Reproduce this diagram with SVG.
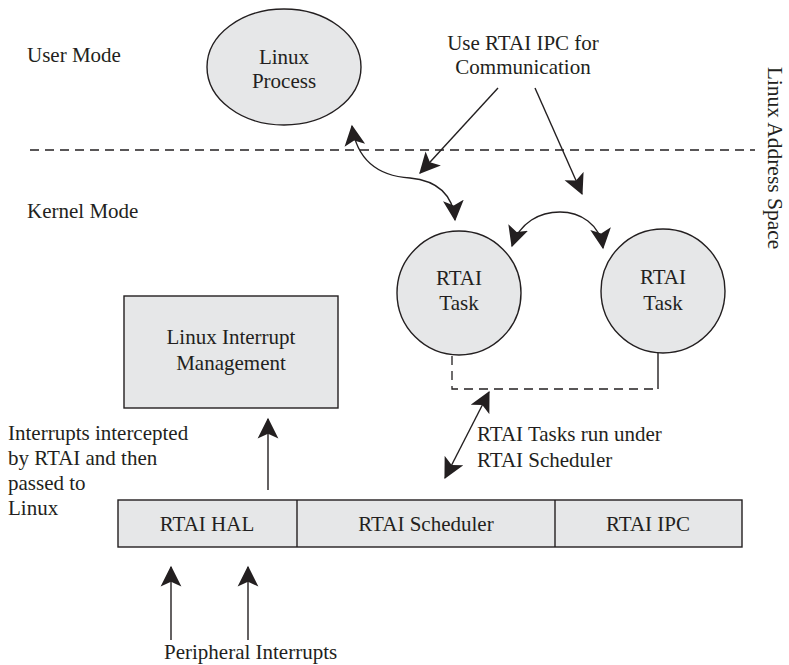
<svg xmlns="http://www.w3.org/2000/svg" width="789" height="665" viewBox="0 0 789 665">
<style>
text{font-family:"Liberation Serif","DejaVu Serif",serif;font-size:21px;fill:#231f20}
.c{text-anchor:middle}
.n{fill:#e6e7e8;stroke:#231f20;stroke-width:1.4}
.l{fill:none;stroke:#231f20;stroke-width:1.4}
.d{fill:none;stroke:#231f20;stroke-width:1.3;stroke-dasharray:9 6}
</style>
<defs>
<marker id="ah" markerUnits="userSpaceOnUse" markerWidth="22" markerHeight="22" viewBox="0 0 18 18" refX="16" refY="9" orient="auto-start-reverse">
<path d="M0,0.5 L17,9 L0,17.5 L4,9 z" fill="#231f20"/>
</marker>
</defs>
<rect width="789" height="665" fill="#fff"/>
<text x="27" y="62">User Mode</text>
<text x="27" y="218">Kernel Mode</text>
<line x1="30" y1="150" x2="755" y2="150" class="d"/>
<text transform="translate(768,158) rotate(90)" class="c" style="font-size:21.5px">Linux Address Space</text>
<text x="523" y="50" class="c">Use RTAI IPC for</text>
<text x="523" y="74" class="c">Communication</text>
<g id="linux-process">
<ellipse cx="284" cy="67" rx="77" ry="58" class="n"/>
<text x="284" y="64" class="c">Linux</text>
<text x="284" y="88" class="c">Process</text>
</g>
<g id="rtai-task-1">
<circle cx="459" cy="293" r="62" class="n"/>
<text x="459" y="285" class="c">RTAI</text>
<text x="459" y="310" class="c">Task</text>
</g>
<g id="rtai-task-2">
<circle cx="663" cy="291" r="62" class="n"/>
<text x="663" y="284" class="c">RTAI</text>
<text x="663" y="310" class="c">Task</text>
</g>
<g id="linux-interrupt-management">
<rect x="124" y="296" width="214" height="112" class="n"/>
<text x="231" y="344" class="c">Linux Interrupt</text>
<text x="231" y="370" class="c">Management</text>
</g>
<g id="rtai-bar">
<rect x="118" y="500" width="624" height="47" class="n"/>
<line x1="297" y1="500" x2="297" y2="547" class="l"/>
<line x1="555" y1="500" x2="555" y2="547" class="l"/>
<text x="207" y="531" class="c">RTAI HAL</text>
<text x="426" y="531" class="c">RTAI Scheduler</text>
<text x="648" y="531" class="c">RTAI IPC</text>
</g>
<text x="8" y="440">Interrupts intercepted</text>
<text x="8" y="465">by RTAI and then</text>
<text x="8" y="490">passed to</text>
<text x="8" y="515">Linux</text>
<text x="477" y="441">RTAI Tasks run under</text>
<text x="477" y="467">RTAI Scheduler</text>
<text x="164" y="659">Peripheral Interrupts</text>
<g id="connectors">
<path d="M352,126 C357,160 378,176 410,178 C440,181 453,196 455,220" class="l" marker-start="url(#ah)" marker-end="url(#ah)"/>
<line x1="498" y1="88" x2="420" y2="173" class="l" marker-end="url(#ah)"/>
<line x1="535" y1="88" x2="582" y2="194" class="l" marker-end="url(#ah)"/>
<path d="M512,246 C520,222 540,212 560,212 C580,212 600,224 603,248" class="l" marker-start="url(#ah)" marker-end="url(#ah)"/>
<path d="M452,356 V389 H658" class="d"/>
<line x1="658" y1="353" x2="658" y2="389" class="l"/>
<line x1="489" y1="392" x2="445" y2="478" class="l" marker-start="url(#ah)" marker-end="url(#ah)"/>
<line x1="268" y1="490" x2="268" y2="419" class="l" marker-end="url(#ah)"/>
<line x1="171" y1="640" x2="171" y2="567" class="l" marker-end="url(#ah)"/>
<line x1="248" y1="640" x2="248" y2="567" class="l" marker-end="url(#ah)"/>
</g>
</svg>
